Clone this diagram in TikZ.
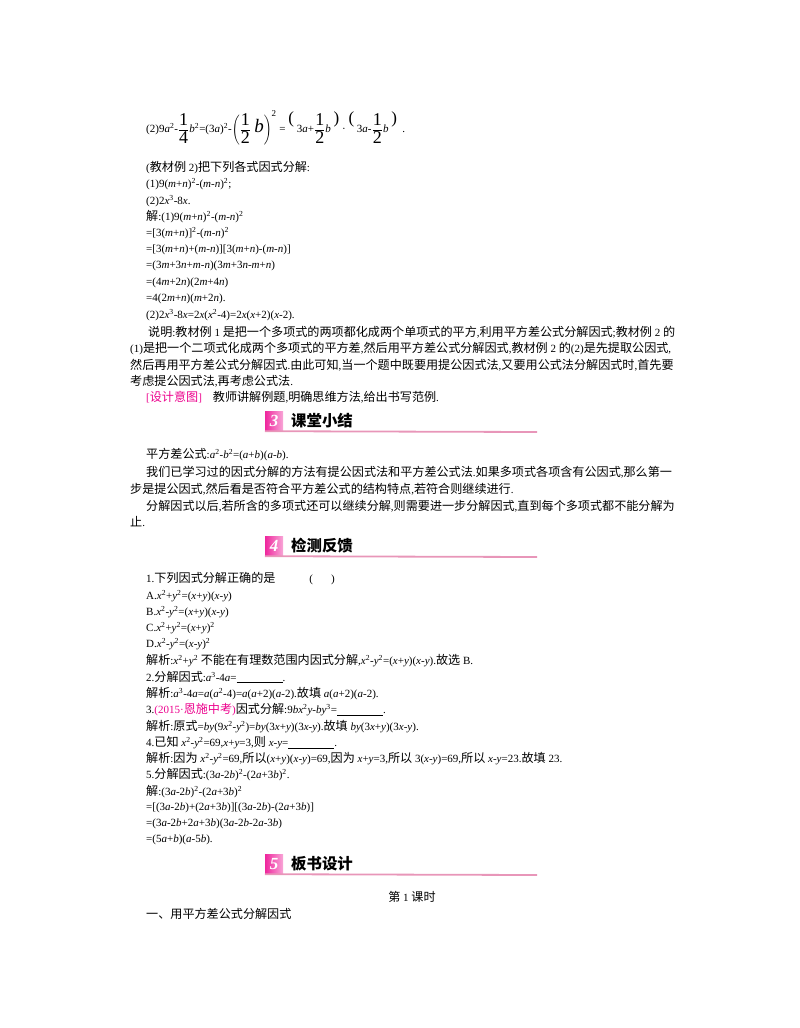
\documentclass[tikz,border=0pt]{standalone}
\usepackage{fontspec}
\setmainfont{Liberation Serif}
\newfontfamily\cjk{Noto Sans CJK SC}[Scale=1.1]
\newfontfamily\cjkb{Noto Sans CJK SC Bold}
\XeTeXinterchartokenstate=1
\newXeTeXintercharclass\cjkclass
\count255="4E00
\loop \XeTeXcharclass\count255=\cjkclass \ifnum\count255<"9FFF \advance\count255 1 \repeat
\count255="3000
\loop \XeTeXcharclass\count255=\cjkclass \ifnum\count255<"303F \advance\count255 1 \repeat
\XeTeXinterchartoks 0 \cjkclass {\cjk}
\XeTeXinterchartoks 4095 \cjkclass {\cjk}
\XeTeXinterchartoks \cjkclass 0 {\rmfamily}
\XeTeXinterchartoks \cjkclass 4095 {\rmfamily}
\definecolor{mag}{RGB}{236,0,140}
\definecolor{pinkl}{RGB}{232,150,185}
\newcommand{\vi}[1]{\textit{#1}}
\newcommand{\blank}{\underline{\hspace{46pt}}}
\newcommand{\fr}[2]{\(\displaystyle\frac{\mbox{\fontsize{18}{18}\selectfont #1}}{\mbox{\fontsize{18}{18}\selectfont #2}}\)}
\tikzset{
 ln/.style={anchor=west,inner sep=0pt,font=\fontsize{11}{12}\selectfont},
 badge/.style={minimum width=18pt,minimum height=20pt,inner sep=0pt,left color=mag!85,right color=mag!35,text=white,font=\bfseries\itshape\fontsize{17}{17}\selectfont},
 htitle/.style={anchor=west,inner sep=0pt,font=\fontsize{14}{14}\selectfont\bfseries},
 hline/.style={pinkl,line width=1.8pt}
}
\begin{document}
\begin{tikzpicture}[x=1pt,y=-1pt]
\useasboundingbox (0,0) rectangle (800,1028);
\node[ln] (f1) at (146,128) {(2)9\vi{a}\textsuperscript{2}-\fr{1}{4}\vi{b}\textsuperscript{2}=(3\vi{a})\textsuperscript{2}-\(\left(\mbox{\fr{1}{2}\fontsize{19}{19}\selectfont\,\vi{b}}\right)^{\mbox{\small 2}}\) = \raisebox{9pt}{\fontsize{17}{17}\selectfont(} 3\vi{a}+\fr{1}{2}\vi{b} \raisebox{9pt}{\fontsize{17}{17}\selectfont)} · \raisebox{9pt}{\fontsize{17}{17}\selectfont(} 3\vi{a}-\fr{1}{2}\vi{b} \raisebox{9pt}{\fontsize{17}{17}\selectfont)}\ \ .};
\node[ln] (l1) at (146,168) {(教材例 2)把下列各式因式分解:};
\node[ln] (l2) at (146,184) {(1)9(\vi{m}+\vi{n})\textsuperscript{2}-(\vi{m}-\vi{n})\textsuperscript{2};};
\node[ln] (l3) at (146,201) {(2)2\vi{x}\textsuperscript{3}-8\vi{x}.};
\node[ln] (l4) at (146,217) {解:(1)9(\vi{m}+\vi{n})\textsuperscript{2}-(\vi{m}-\vi{n})\textsuperscript{2}};
\node[ln] (l5) at (146,233) {=[3(\vi{m}+\vi{n})]\textsuperscript{2}-(\vi{m}-\vi{n})\textsuperscript{2}};
\node[ln] (l6) at (146,250) {=[3(\vi{m}+\vi{n})+(\vi{m}-\vi{n})][3(\vi{m}+\vi{n})-(\vi{m}-\vi{n})]};
\node[ln] (l7) at (146,266) {=(3\vi{m}+3\vi{n}+\vi{m}-\vi{n})(3\vi{m}+3\vi{n}-\vi{m}+\vi{n})};
\node[ln] (l8) at (146,283) {=(4\vi{m}+2\vi{n})(2\vi{m}+4\vi{n})};
\node[ln] (l9) at (146,299) {=4(2\vi{m}+\vi{n})(\vi{m}+2\vi{n}).};
\node[ln] (l10) at (146,315) {(2)2\vi{x}\textsuperscript{3}-8\vi{x}=2\vi{x}(\vi{x}\textsuperscript{2}-4)=2\vi{x}(\vi{x}+2)(\vi{x}-2).};
\node[ln] (p1) at (148,332) {说明:教材例 1 是把一个多项式的两项都化成两个单项式的平方,利用平方差公式分解因式;教材例 2 的};
\node[ln] (p2) at (130,349) {(1)是把一个二项式化成两个多项式的平方差,然后用平方差公式分解因式,教材例 2 的(2)是先提取公因式,};
\node[ln] (p3) at (130,365) {然后再用平方差公式分解因式.由此可知,当一个题中既要用提公因式法,又要用公式法分解因式时,首先要};
\node[ln] (p4) at (130,381) {考虑提公因式法,再考虑公式法.};
\node[ln] (p5) at (146,397) {\textcolor{mag}{[设计意图]}\quad 教师讲解例题,明确思维方法,给出书写范例.};
% heading 3
\node[badge] (b3) at (274,421) {3};
\node[htitle] (h3) at (291,421) {\cjkb 课堂小结};
\draw[hline] (b3.south west) -- (537,432);
\node[ln] (s1) at (146,455) {平方差公式:\vi{a}\textsuperscript{2}-\vi{b}\textsuperscript{2}=(\vi{a}+\vi{b})(\vi{a}-\vi{b}).};
\node[ln] (s2) at (146,472) {我们已学习过的因式分解的方法有提公因式法和平方差公式法.如果多项式各项含有公因式,那么第一};
\node[ln] (s3) at (130,489) {步是提公因式,然后看是否符合平方差公式的结构特点,若符合则继续进行.};
\node[ln] (s4) at (146,506) {分解因式以后,若所含的多项式还可以继续分解,则需要进一步分解因式,直到每个多项式都不能分解为};
\node[ln] (s5) at (130,522) {止.};
% heading 4
\node[badge] (b4) at (274,546) {4};
\node[htitle] (h4) at (291,546) {\cjkb 检测反馈};
\draw[hline] (b4.south west) -- (537,557);
\node[ln] (q1) at (146,579) {1.下列因式分解正确的是\hspace{34pt}(\hspace{18pt})};
\node[ln] (qa) at (146,596) {A.\vi{x}\textsuperscript{2}+\vi{y}\textsuperscript{2}=(\vi{x}+\vi{y})(\vi{x}-\vi{y})};
\node[ln] (qb) at (146,612) {B.\vi{x}\textsuperscript{2}-\vi{y}\textsuperscript{2}=(\vi{x}+\vi{y})(\vi{x}-\vi{y})};
\node[ln] (qc) at (146,628) {C.\vi{x}\textsuperscript{2}+\vi{y}\textsuperscript{2}=(\vi{x}+\vi{y})\textsuperscript{2}};
\node[ln] (qd) at (146,644) {D.\vi{x}\textsuperscript{2}-\vi{y}\textsuperscript{2}=(\vi{x}-\vi{y})\textsuperscript{2}};
\node[ln] (r1) at (146,661) {解析:\vi{x}\textsuperscript{2}+\vi{y}\textsuperscript{2} 不能在有理数范围内因式分解,\vi{x}\textsuperscript{2}-\vi{y}\textsuperscript{2}=(\vi{x}+\vi{y})(\vi{x}-\vi{y}).故选 B.};
\node[ln] (q2) at (146,677) {2.分解因式:\vi{a}\textsuperscript{3}-4\vi{a}=\blank.};
\node[ln] (r2) at (146,694) {解析:\vi{a}\textsuperscript{3}-4\vi{a}=\vi{a}(\vi{a}\textsuperscript{2}-4)=\vi{a}(\vi{a}+2)(\vi{a}-2).故填 \vi{a}(\vi{a}+2)(\vi{a}-2).};
\node[ln] (q3) at (146,710) {3.\textcolor{mag}{(2015·恩施中考)}因式分解:9\vi{bx}\textsuperscript{2}\vi{y}-\vi{by}\textsuperscript{3}=\blank.};
\node[ln] (r3) at (146,727) {解析:原式=\vi{by}(9\vi{x}\textsuperscript{2}-\vi{y}\textsuperscript{2})=\vi{by}(3\vi{x}+\vi{y})(3\vi{x}-\vi{y}).故填 \vi{by}(3\vi{x}+\vi{y})(3\vi{x}-\vi{y}).};
\node[ln] (q4) at (146,743) {4.已知 \vi{x}\textsuperscript{2}-\vi{y}\textsuperscript{2}=69,\vi{x}+\vi{y}=3,则 \vi{x}-\vi{y}=\blank.};
\node[ln] (r4) at (146,759) {解析:因为 \vi{x}\textsuperscript{2}-\vi{y}\textsuperscript{2}=69,所以(\vi{x}+\vi{y})(\vi{x}-\vi{y})=69,因为 \vi{x}+\vi{y}=3,所以 3(\vi{x}-\vi{y})=69,所以 \vi{x}-\vi{y}=23.故填 23.};
\node[ln] (q5) at (146,775) {5.分解因式:(3\vi{a}-2\vi{b})\textsuperscript{2}-(2\vi{a}+3\vi{b})\textsuperscript{2}.};
\node[ln] (r5) at (146,792) {解:(3\vi{a}-2\vi{b})\textsuperscript{2}-(2\vi{a}+3\vi{b})\textsuperscript{2}};
\node[ln] (r6) at (146,808) {=[(3\vi{a}-2\vi{b})+(2\vi{a}+3\vi{b})][(3\vi{a}-2\vi{b})-(2\vi{a}+3\vi{b})]};
\node[ln] (r7) at (146,824) {=(3\vi{a}-2\vi{b}+2\vi{a}+3\vi{b})(3\vi{a}-2\vi{b}-2\vi{a}-3\vi{b})};
\node[ln] (r8) at (146,840) {=(5\vi{a}+\vi{b})(\vi{a}-5\vi{b}).};
% heading 5
\node[badge] (b5) at (274,864) {5};
\node[htitle] (h5) at (291,864) {\cjkb 板书设计};
\draw[hline] (b5.south west) -- (537,875);
\node[ln,anchor=center] (t1) at (412,897) {第 1 课时};
\node[ln] (t2) at (146,914) {一、用平方差公式分解因式};
\end{tikzpicture}
\end{document}
